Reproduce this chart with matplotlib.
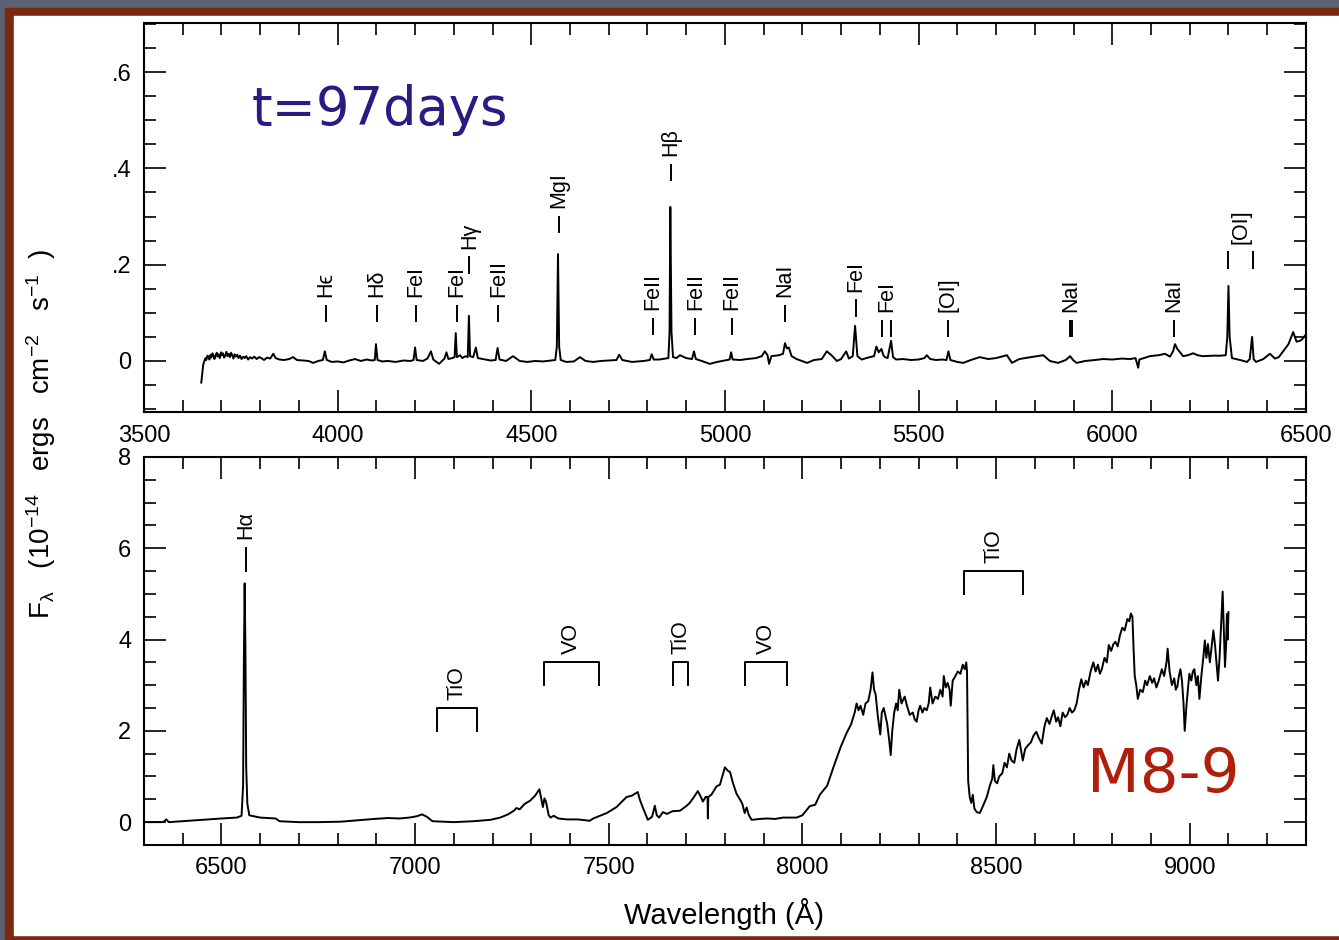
import numpy as np
import matplotlib.pyplot as plt
from matplotlib.patches import Rectangle
from matplotlib.ticker import MultipleLocator

plt.rcParams['font.family'] = ['Liberation Sans', 'DejaVu Sans']
plt.rcParams['mathtext.default'] = 'regular'

# blue spectrum (wavelength in A, flux)
blue_spec = [
    (3648, -0.045), (3650, -0.03), (3653, -0.008), (3656, 0.0), (3659, 0.006), (3661, 0.002),
    (3664, 0.011), (3666, 0.009), (3669, 0.003), (3672, 0.013), (3674, 0.007), (3677, 0.016),
    (3680, 0.01), (3682, 0.004), (3685, 0.012), (3688, 0.017), (3690, 0.009), (3693, 0.014),
    (3696, 0.006), (3699, 0.018), (3701, 0.012), (3704, 0.016), (3707, 0.007), (3710, 0.011),
    (3713, 0.019), (3716, 0.01), (3719, 0.015), (3722, 0.008), (3725, 0.017), (3728, 0.012),
    (3731, 0.005), (3734, 0.014), (3737, 0.009), (3741, 0.013), (3744, 0.006), (3748, 0.011),
    (3752, 0.004), (3756, 0.009), (3760, 0.006), (3764, 0.01), (3769, 0.003), (3774, 0.008),
    (3779, 0.005), (3785, 0.009), (3791, 0.004), (3797, 0.008), (3803, 0.006), (3810, 0.002),
    (3818, 0.007), (3826, 0.005), (3834, 0.015), (3840, 0.006), (3850, 0.003),
    (3862, 0.002), (3875, 0.004), (3885, 0.008), (3895, 0.002), (3910, 0.001), (3925, 0.0),
    (3937, -0.004), (3950, 0.0), (3962, 0.002), (3967, 0.02), (3972, 0.002), (3985, -0.002),
    (4000, -0.001), (4015, -0.003), (4030, 0.001), (4045, 0.004), (4060, 0.0), (4075, 0.003),
    (4088, 0.001), (4096, 0.002), (4099, 0.035), (4103, 0.002), (4115, -0.001), (4130, 0.0),
    (4150, -0.002), (4170, 0.001), (4188, 0.0), (4196, 0.002), (4200, 0.028), (4204, 0.002),
    (4220, 0.0), (4232, 0.005), (4241, 0.02), (4247, 0.003), (4262, -0.006), (4276, 0.005),
    (4281, 0.018), (4286, 0.004), (4296, 0.006), (4302, 0.008), (4305, 0.058), (4308, 0.008),
    (4316, 0.012), (4322, 0.006), (4330, 0.01), (4336, 0.008), (4339, 0.094), (4342, 0.01),
    (4350, 0.008), (4357, 0.028), (4362, 0.006), (4375, 0.004), (4395, 0.001), (4408, 0.002),
    (4413, 0.027), (4418, 0.003), (4435, 0.0), (4453, 0.01), (4470, 0.0), (4490, -0.002),
    (4510, 0.0), (4530, -0.001), (4550, 0.001), (4562, 0.002), (4566, 0.03), (4569, 0.222),
    (4572, 0.03), (4576, 0.002), (4590, -0.002), (4610, -0.001), (4626, 0.008), (4640, 0.0),
    (4660, -0.002), (4680, 0.0), (4700, 0.001), (4720, 0.002), (4727, 0.013), (4735, 0.002),
    (4760, -0.002), (4790, 0.0), (4806, 0.002), (4811, 0.014), (4816, 0.003), (4830, 0.003),
    (4845, 0.005), (4854, 0.006), (4857, 0.06), (4859, 0.32), (4862, 0.06), (4866, 0.008),
    (4875, 0.006), (4884, 0.012), (4900, 0.006), (4915, 0.004), (4920, 0.02), (4925, 0.004),
    (4940, 0.0), (4961, -0.006), (4980, -0.002), (5000, 0.001), (5012, 0.003), (5016, 0.018),
    (5020, 0.003), (5040, 0.002), (5057, 0.004), (5080, 0.006), (5095, 0.01), (5103, 0.02),
    (5110, 0.012), (5114, -0.006), (5120, 0.01), (5140, 0.012), (5150, 0.015), (5155, 0.037),
    (5160, 0.026), (5165, 0.028), (5172, 0.01), (5185, 0.004), (5212, -0.004), (5230, 0.002),
    (5250, 0.004), (5263, 0.02), (5275, 0.012), (5289, 0.0), (5300, 0.004), (5313, 0.02),
    (5320, 0.005), (5330, 0.01), (5336, 0.073), (5342, 0.01), (5353, 0.003), (5365, 0.006),
    (5374, 0.008), (5385, 0.01), (5391, 0.03), (5397, 0.018), (5404, 0.025), (5409, 0.012),
    (5413, 0.008), (5420, 0.006), (5429, 0.042), (5434, 0.008), (5442, 0.003), (5460, 0.004),
    (5480, 0.002), (5500, 0.003), (5515, 0.006), (5521, 0.012), (5530, 0.004), (5545, 0.002),
    (5560, 0.003), (5572, 0.002), (5577, 0.02), (5582, 0.002), (5600, -0.002), (5615, -0.004),
    (5635, 0.002), (5658, 0.008), (5680, 0.004), (5700, 0.006), (5728, 0.012), (5741, -0.004),
    (5760, 0.004), (5790, 0.008), (5822, 0.012), (5839, 0.0), (5860, -0.004), (5880, 0.002),
    (5891, 0.01), (5900, 0.001), (5908, -0.004), (5930, 0.0), (5955, 0.002), (5977, 0.004),
    (6000, 0.003), (6025, 0.005), (6046, 0.004), (6060, 0.006), (6067, -0.014), (6070, 0.003),
    (6097, 0.01), (6120, 0.012), (6136, 0.015), (6149, 0.009), (6157, 0.02), (6162, 0.035),
    (6168, 0.025), (6183, 0.01), (6195, 0.012), (6209, 0.016), (6220, 0.012), (6234, 0.01),
    (6260, 0.011), (6280, 0.011), (6293, 0.012), (6297, 0.05), (6300, 0.156), (6303, 0.05),
    (6309, 0.006), (6330, 0.002), (6348, -0.002), (6355, 0.004), (6361, 0.05), (6365, 0.004),
    (6371, -0.002), (6390, 0.004), (6407, 0.015), (6420, 0.005), (6430, 0.008), (6441, 0.02),
    (6455, 0.035), (6467, 0.06), (6476, 0.04), (6485, 0.042), (6490, 0.045), (6500, 0.055),
]

# red spectrum (wavelength in A, flux)
red_spec = [
    (6305, 0.0), (6350, 0.0), (6358, 0.06), (6364, 0.0), (6400, 0.02), (6450, 0.05),
    (6500, 0.08), (6540, 0.1), (6552, 0.14), (6556, 0.8), (6558, 3.5), (6560, 5.23),
    (6562, 3.8), (6564, 1.2), (6567, 0.4), (6572, 0.15), (6600, 0.1), (6640, 0.08),
    (6650, 0.02), (6700, 0.0), (6750, 0.0), (6808, 0.01), (6850, 0.04), (6894, 0.07),
    (6930, 0.09), (6960, 0.08), (6985, 0.1), (7005, 0.13), (7018, 0.17), (7030, 0.12),
    (7045, 0.02), (7100, 0.0), (7150, 0.02), (7194, 0.05), (7220, 0.1), (7240, 0.17),
    (7255, 0.25), (7262, 0.31), (7270, 0.28), (7283, 0.4), (7297, 0.47), (7310, 0.58),
    (7321, 0.72), (7326, 0.5), (7330, 0.33), (7334, 0.52), (7338, 0.45), (7345, 0.15),
    (7350, 0.1), (7358, 0.14), (7370, 0.08), (7392, 0.06), (7420, 0.06), (7451, 0.03),
    (7460, 0.08), (7495, 0.2), (7520, 0.33), (7546, 0.55), (7560, 0.58), (7575, 0.66),
    (7580, 0.5), (7588, 0.32), (7601, 0.05), (7612, 0.12), (7619, 0.36), (7624, 0.15),
    (7630, 0.1), (7640, 0.22), (7650, 0.18), (7665, 0.24), (7684, 0.25), (7700, 0.35),
    (7709, 0.42), (7720, 0.55), (7730, 0.68), (7738, 0.55), (7743, 0.45), (7750, 0.55),
    (7755, 0.55), (7756, 0.08), (7757, 0.55), (7765, 0.6), (7778, 0.78), (7787, 0.82),
    (7795, 1.05), (7800, 1.2), (7808, 1.12), (7813, 1.1), (7821, 0.85), (7830, 0.62),
    (7840, 0.48), (7845, 0.4), (7851, 0.2), (7856, 0.32), (7862, 0.15), (7869, 0.05),
    (7890, 0.07), (7908, 0.08), (7930, 0.07), (7950, 0.1), (7985, 0.1), (8000, 0.15),
    (8019, 0.35), (8033, 0.38), (8045, 0.6), (8064, 0.8), (8080, 1.2), (8099, 1.65),
    (8114, 1.95), (8126, 2.15), (8135, 2.4), (8140, 2.6), (8145, 2.45), (8150, 2.55),
    (8157, 2.35), (8163, 2.6), (8170, 2.65), (8176, 2.9), (8181, 3.28), (8185, 2.9),
    (8189, 2.8), (8195, 2.3), (8201, 1.92), (8205, 2.4), (8210, 2.5), (8215, 2.3),
    (8219, 2.15), (8224, 1.8), (8228, 1.47), (8232, 2.0), (8237, 2.4), (8242, 2.6),
    (8246, 2.45), (8250, 2.9), (8256, 2.6), (8264, 2.75), (8270, 2.55), (8277, 2.35),
    (8285, 2.4), (8290, 2.25), (8295, 2.2), (8300, 2.45), (8304, 2.55), (8310, 2.4),
    (8315, 2.5), (8321, 2.45), (8326, 2.6), (8330, 2.95), (8336, 2.6), (8343, 2.75),
    (8350, 2.7), (8356, 2.9), (8362, 2.75), (8365, 3.2), (8370, 2.95), (8375, 3.05),
    (8380, 2.9), (8383, 2.55), (8388, 3.1), (8395, 3.2), (8401, 3.3), (8408, 3.25),
    (8414, 3.45), (8419, 3.35), (8423, 3.5), (8425, 3.3), (8428, 0.9), (8432, 0.55),
    (8436, 0.42), (8440, 0.6), (8444, 0.3), (8450, 0.22), (8458, 0.2), (8466, 0.35),
    (8476, 0.55), (8484, 0.8), (8490, 0.95), (8493, 1.25), (8497, 0.9), (8503, 0.85),
    (8508, 1.0), (8516, 1.07), (8522, 1.3), (8528, 1.2), (8534, 1.5), (8540, 1.35),
    (8547, 1.3), (8553, 1.6), (8560, 1.8), (8565, 1.55), (8569, 1.35), (8575, 1.6),
    (8582, 1.68), (8590, 1.75), (8597, 1.9), (8604, 1.98), (8610, 1.85), (8618, 1.72),
    (8625, 2.1), (8631, 2.28), (8638, 2.15), (8645, 2.35), (8649, 2.45), (8655, 2.2),
    (8660, 2.3), (8666, 2.1), (8672, 2.4), (8678, 2.3), (8684, 2.35), (8690, 2.5),
    (8696, 2.4), (8702, 2.45), (8708, 2.6), (8714, 2.9), (8720, 3.13), (8726, 2.95),
    (8732, 3.1), (8737, 3.0), (8744, 3.3), (8751, 3.5), (8757, 3.3), (8763, 3.45),
    (8768, 3.25), (8773, 3.35), (8780, 3.6), (8786, 3.5), (8791, 3.88), (8797, 3.75),
    (8803, 3.9), (8808, 3.95), (8814, 3.85), (8820, 4.1), (8826, 4.26), (8832, 4.2),
    (8839, 4.45), (8844, 4.4), (8848, 4.57), (8852, 4.5), (8855, 3.8), (8858, 3.2),
    (8862, 3.0), (8866, 2.7), (8872, 2.9), (8879, 2.85), (8885, 3.1), (8890, 3.0),
    (8897, 3.2), (8903, 3.05), (8908, 3.15), (8914, 2.95), (8920, 3.1), (8928, 3.35),
    (8934, 3.2), (8940, 3.5), (8943, 3.8), (8948, 3.3), (8954, 3.0), (8960, 3.15),
    (8964, 2.9), (8968, 2.97), (8972, 3.2), (8976, 3.35), (8980, 3.1), (8984, 2.6),
    (8987, 2.0), (8992, 2.6), (8999, 3.25), (9004, 3.1), (9008, 3.3), (9012, 3.35),
    (9017, 3.0), (9021, 3.2), (9025, 2.7), (9030, 3.2), (9035, 3.6), (9039, 3.98),
    (9043, 3.6), (9047, 3.9), (9052, 3.5), (9056, 3.8), (9061, 4.2), (9065, 3.9),
    (9069, 3.5), (9073, 3.1), (9077, 3.6), (9081, 4.3), (9085, 5.05), (9088, 4.2),
    (9091, 3.4), (9094, 3.9), (9096, 4.56), (9098, 4.0), (9100, 4.6),
]

# line identifications, top panel
blue_id_wl = [[3970], [4102], [4202], [4308], [4340], [4415], [4571], [4814], [4861],
              [4924], [5018], [5155], [5339], [5405, 5430], [5577], [5890, 5896], [6160],
              [6300, 6364]]
blue_id_base = [0.083, 0.083, 0.083, 0.083, 0.183, 0.083, 0.267, 0.056, 0.375,
                0.056, 0.056, 0.083, 0.094, 0.052, 0.052, 0.052, 0.052, 0.194]
blue_id_lab = ['H\u03f5', 'H\u03b4', 'FeI', 'FeI', 'H\u03b3', 'FeII', 'MgI', 'FeII', 'H\u03b2',
               'FeII', 'FeII', 'NaI', 'FeI', 'FeI', '[OI]', 'NaI', 'NaI', '[OI]']

# molecular bands, bottom panel
band_lo = [7057, 7334, 7667, 7852, 8418]
band_hi = [7160, 7474, 7705, 7961, 8569]
band_top = [2.5, 3.5, 3.5, 3.5, 5.5]
band_lab = ['TiO', 'VO', 'TiO', 'VO', 'TiO']

fig = plt.figure(figsize=(13.39, 9.40), dpi=100)
fig.patch.set_facecolor('#5b6273')
fig.add_artist(Rectangle((5/1339, 0), 1, 932/940, transform=fig.transFigure,
                         color='#7a2a12', zorder=-10))
fig.add_artist(Rectangle((14/1339, 5/940), 1, 919/940, transform=fig.transFigure,
                         color='white', zorder=-9))

ax1 = fig.add_axes([0.1075, 0.5617, 0.8678, 0.4138])
ax2 = fig.add_axes([0.1075, 0.1011, 0.8678, 0.4128])

for ax in (ax1, ax2):
    ax.tick_params(which='both', direction='in', top=True, right=True, width=1.2,
                   labelsize=17, pad=9)
    ax.tick_params(which='major', length=16)
    ax.tick_params(which='minor', length=8.5)
    for s in ax.spines.values():
        s.set_linewidth(1.5)
    ax.xaxis.set_major_locator(MultipleLocator(500))
    ax.xaxis.set_minor_locator(MultipleLocator(100))

# top panel
wl, fl = np.array(blue_spec).T
ax1.plot(wl, fl, color='black', lw=1.4)
ax1.set_xlim(3500, 6500)
ax1.set_ylim(-0.106, 0.702)
ax1.set_yticks([0, 0.2, 0.4, 0.6])
ax1.set_yticklabels(['0', '.2', '.4', '.6'])
ax1.yaxis.set_minor_locator(MultipleLocator(0.05))
for w, b, lab in zip(blue_id_wl, blue_id_base, blue_id_lab):
    for x in w:
        ax1.plot([x, x], [b, b + 0.032], color='black', lw=1.4)
    ax1.text(np.mean(w), b + 0.05, lab, rotation=90, ha='center', va='bottom',
             fontsize=15.5)
ax1.text(0.093, 0.738, 't=97days', transform=ax1.transAxes, fontsize=38,
         color='#2c1a84', family='DejaVu Sans', ha='left', va='baseline')

# bottom panel
wl, fl = np.array(red_spec).T
ax2.plot(wl, fl, color='black', lw=1.4)
ax2.set_xlim(6300, 9300)
ax2.set_ylim(-0.5, 8)
ax2.set_yticks([0, 2, 4, 6, 8])
ax2.yaxis.set_minor_locator(MultipleLocator(0.5))
ax2.plot([6563, 6563], [5.5, 6.0], color='black', lw=1.4)
ax2.text(6563, 6.2, 'H\u03b1', rotation=90, ha='center', va='bottom', fontsize=15.5)
for lo, hi, top, lab in zip(band_lo, band_hi, band_top, band_lab):
    ax2.plot([lo, lo, hi, hi], [top - 0.5, top, top, top - 0.5], color='black', lw=1.4)
    ax2.text((lo + hi) / 2, top + 0.18, lab, rotation=90, ha='center', va='bottom',
             fontsize=15.5)
ax2.text(0.812, 0.137, 'M8-9', transform=ax2.transAxes, fontsize=44,
         color='#b01e0c', family='DejaVu Sans', ha='left', va='baseline')

fig.text(0.031, 0.539, r'F$_\lambda$   (10$^{-14}$   ergs   cm$^{-2}$   s$^{-1}$  )',
         rotation=90, ha='center', va='center', fontsize=20)
fig.text(0.541, 0.028, 'Wavelength (\u00c5)', ha='center', va='center', fontsize=21)

fig.savefig('out.png', dpi=100, facecolor=fig.get_facecolor())
